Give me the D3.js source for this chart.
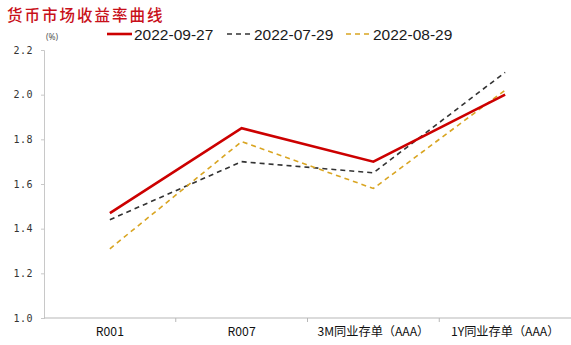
<!DOCTYPE html>
<html>
<head>
<meta charset="utf-8">
<script src="https://cdn.jsdelivr.net/npm/d3@7"></script>
<style>
  html, body { margin: 0; padding: 0; background: #fff; }
  svg { display: block; }
</style>
</head>
<body>
<svg id="chart" width="571" height="345"></svg>
<script>
// Money market yield curve: three snapshot dates across four tenors
const categories = ["R001", "R007", "3M同业存单（AAA）", "1Y同业存单（AAA）"];
const seriesNames = ["2022-09-27", "2022-07-29", "2022-08-29"];
const values0927 = [1.47, 1.85, 1.70, 2.00];
const values0729 = [1.44, 1.70, 1.65, 2.10];
const values0829 = [1.31, 1.79, 1.58, 2.02];
const yTicks = [1.0, 1.2, 1.4, 1.6, 1.8, 2.0, 2.2];

const series = [
  { name: seriesNames[1], values: values0729, color: "#333333", width: 1.6, dash: "5,4" },
  { name: seriesNames[2], values: values0829, color: "#d9a522", width: 1.6, dash: "5,4" },
  { name: seriesNames[0], values: values0927, color: "#cc0000", width: 2.6, dash: null }
];

const svg = d3.select("#chart");
const margin = { left: 44, right: 0, top: 50, bottom: 27 };
const W = 571, H = 345;

const x = d3.scaleBand().domain(categories).range([margin.left, W - margin.right]);
const y = d3.scaleLinear().domain([1.0, 2.2]).range([H - margin.bottom, margin.top]);

// Title
svg.append("text")
  .attr("x", 7).attr("y", 21)
  .attr("font-family", "'Noto Sans CJK SC', sans-serif")
  .attr("font-size", 15.5).attr("font-weight", 500)
  .attr("letter-spacing", 2)
  .attr("fill", "#c8101a")
  .text("货币市场收益率曲线");

// Unit label
svg.append("text")
  .attr("x", 46).attr("y", 40)
  .attr("font-family", "'Noto Sans', sans-serif")
  .attr("font-size", 8.5).attr("fill", "#555")
  .text("(%)");

// Y axis
const yAxis = d3.axisLeft(y).tickValues(yTicks).tickFormat(d3.format(".1f")).tickSize(3).tickPadding(8);
const gy = svg.append("g").attr("transform", `translate(${margin.left},0)`).call(yAxis);
gy.select(".domain").attr("stroke", "#c8c8c8");
gy.selectAll(".tick line").attr("stroke", "#c8c8c8");
gy.selectAll(".tick text")
  .attr("font-family", "'DejaVu Sans Mono', monospace")
  .attr("font-size", 10).attr("fill", "#333")
  .attr("letter-spacing", 0.5);

// X axis with ticks on band boundaries
const gx = svg.append("g").attr("transform", `translate(0,${H - margin.bottom})`);
gx.append("line")
  .attr("x1", margin.left).attr("x2", W)
  .attr("stroke", "#b8b8b8").attr("stroke-width", 1.2);
gx.selectAll("line.tk")
  .data(categories.slice(1))
  .join("line")
  .attr("class", "tk")
  .attr("x1", d => x(d)).attr("x2", d => x(d))
  .attr("y1", 0).attr("y2", 4)
  .attr("stroke", "#b8b8b8");
gx.selectAll("text")
  .data(categories)
  .join("text")
  .attr("x", d => x(d) + x.bandwidth() / 2)
  .attr("y", 18)
  .attr("text-anchor", "middle")
  .attr("font-family", "'Noto Sans CJK SC', sans-serif")
  .attr("font-size", 12.2).attr("fill", "#111")
  .text(d => d);

// Lines
const line = d3.line()
  .x((d, i) => x(categories[i]) + x.bandwidth() / 2)
  .y(d => y(d));

svg.append("g").selectAll("path")
  .data(series)
  .join("path")
  .attr("d", d => line(d.values))
  .attr("fill", "none")
  .attr("stroke", d => d.color)
  .attr("stroke-width", d => d.width)
  .attr("stroke-dasharray", d => d.dash)
  .attr("stroke-linejoin", "miter");

// Legend
const legendItems = [
  { name: seriesNames[0], color: "#cc0000", width: 2.6, dash: null, x: 107 },
  { name: seriesNames[1], color: "#333333", width: 1.6, dash: "5,4", x: 227 },
  { name: seriesNames[2], color: "#d9a522", width: 1.6, dash: "5,4", x: 346 }
];
const lg = svg.append("g").selectAll("g").data(legendItems).join("g")
  .attr("transform", d => `translate(${d.x},34)`);
lg.append("line")
  .attr("x1", 0).attr("x2", 25).attr("y1", 0).attr("y2", 0)
  .attr("stroke", d => d.color)
  .attr("stroke-width", d => d.width)
  .attr("stroke-dasharray", d => d.dash);
lg.append("text")
  .attr("x", 27).attr("y", 5.5)
  .attr("font-family", "'Liberation Sans', Arial, sans-serif")
  .attr("font-size", 15.5).attr("fill", "#1a1a1a")
  .text(d => d.name);
</script>
</body>
</html>
